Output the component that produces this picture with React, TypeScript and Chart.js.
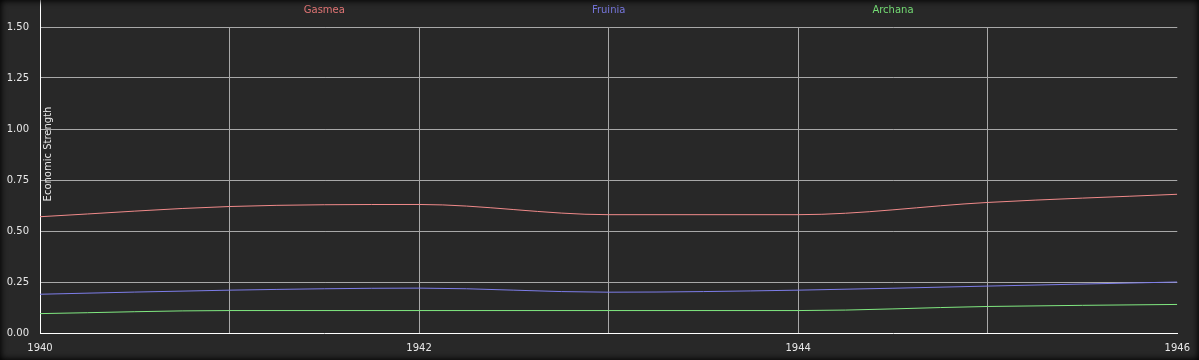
import React, { useEffect, useRef } from "react";
import { Chart, registerables } from "chart.js";

Chart.register(...registerables);

const years = [1940, 1941, 1942, 1943, 1944, 1945, 1946];
const gasmea = [0.57, 0.62, 0.63, 0.58, 0.58, 0.64, 0.68];
const fruinia = [0.19, 0.21, 0.22, 0.2, 0.21, 0.23, 0.25];
const archana = [0.095, 0.11, 0.11, 0.11, 0.11, 0.13, 0.14];
const seriesNames = ["Gasmea", "Fruinia", "Archana"];
const lineColors = ["#f08a8a", "#7d7de8", "#80e880"];
const legendColors = ["#e07474", "#7676dc", "#74dc74"];
const yTitle = "Economic Strength";

const FONT = "'DejaVu Sans', Verdana, sans-serif";

const overlayPlugin = {
  id: "overlay",
  afterDraw(chart: any) {
    const { ctx, chartArea } = chart;
    ctx.save();
    // left border extension to top
    ctx.strokeStyle = "#ffffff";
    ctx.lineWidth = 1;
    ctx.beginPath();
    ctx.moveTo(chartArea.left + 0.5, 0);
    ctx.lineTo(chartArea.left + 0.5, chartArea.top);
    ctx.stroke();
    // legend
    ctx.font = `10px ${FONT}`;
    ctx.textAlign = "center";
    ctx.textBaseline = "middle";
    const w = chartArea.right - chartArea.left;
    seriesNames.forEach((n, i) => {
      ctx.fillStyle = legendColors[i];
      ctx.fillText(n, chartArea.left + (w * (i + 1)) / 4, 10);
    });
    // y title
    ctx.translate(chartArea.left + 8, 154);
    ctx.rotate(-Math.PI / 2);
    ctx.fillStyle = "#e8e8e8";
    ctx.fillText(yTitle, 0, 0);
    ctx.restore();
  },
};

export default function App() {
  const ref = useRef<HTMLCanvasElement>(null);
  useEffect(() => {
    document.body.style.margin = "0";
    const mk = (i: number, data: number[]) => ({
      label: seriesNames[i],
      data: years.map((y, k) => ({ x: y, y: data[k] })),
      borderColor: lineColors[i],
      backgroundColor: lineColors[i],
      borderWidth: 1,
      pointRadius: 0,
      cubicInterpolationMode: "monotone" as const,
      fill: false,
    });
    const chart = new Chart(ref.current!, {
      type: "line",
      data: {
        datasets: [mk(0, gasmea), mk(1, fruinia), mk(2, archana)],
      },
      options: {
        animation: false,
        responsive: false,
        layout: { padding: { top: 27, right: 21, left: 0, bottom: 0 } },
        plugins: { legend: { display: false }, tooltip: { enabled: false } },
        scales: {
          x: {
            type: "linear",
            min: 1940,
            max: 1946,
            afterFit: (s: any) => {
              s.height = 27;
            },
            ticks: {
              stepSize: 1,
              color: "#e8e8e8",
              font: { family: FONT, size: 10 },
              padding: 9,
              maxRotation: 0,
              callback: (v: any) => (Number(v) % 2 === 0 ? String(v) : ""),
            },
            grid: {
              drawTicks: false,
              color: (c: any) =>
                c.tick && (c.tick.value === 1946 || c.tick.value === 1940) ? "rgba(0,0,0,0)" : "#a8a8a8",
              lineWidth: 1,
            },
            border: { color: "#ffffff", width: 1 },
          },
          y: {
            min: 0,
            max: 1.5,
            afterFit: (s: any) => {
              s.width = 40;
            },
            ticks: {
              stepSize: 0.25,
              color: "#e8e8e8",
              font: { family: FONT, size: 10 },
              padding: 11,
              callback: (v: any) => Number(v).toFixed(2),
            },
            grid: {
              drawTicks: false,
              color: (c: any) => (c.tick && c.tick.value === 0 ? "rgba(0,0,0,0)" : "#a8a8a8"),
              lineWidth: 1,
            },
            border: { color: "#ffffff", width: 1 },
          },
        },
      },
      plugins: [overlayPlugin],
    });
    return () => chart.destroy();
  }, []);
  return (
    <div style={{ position: "relative", width: 1199, height: 360, background: "#282828" }}>
      <canvas ref={ref} width={1199} height={360} style={{ display: "block" }} />
      <div
        style={{
          position: "absolute",
          inset: 0,
          pointerEvents: "none",
          boxShadow: "inset 0 0 6px 1px #000",
        }}
      />
    </div>
  );
}
